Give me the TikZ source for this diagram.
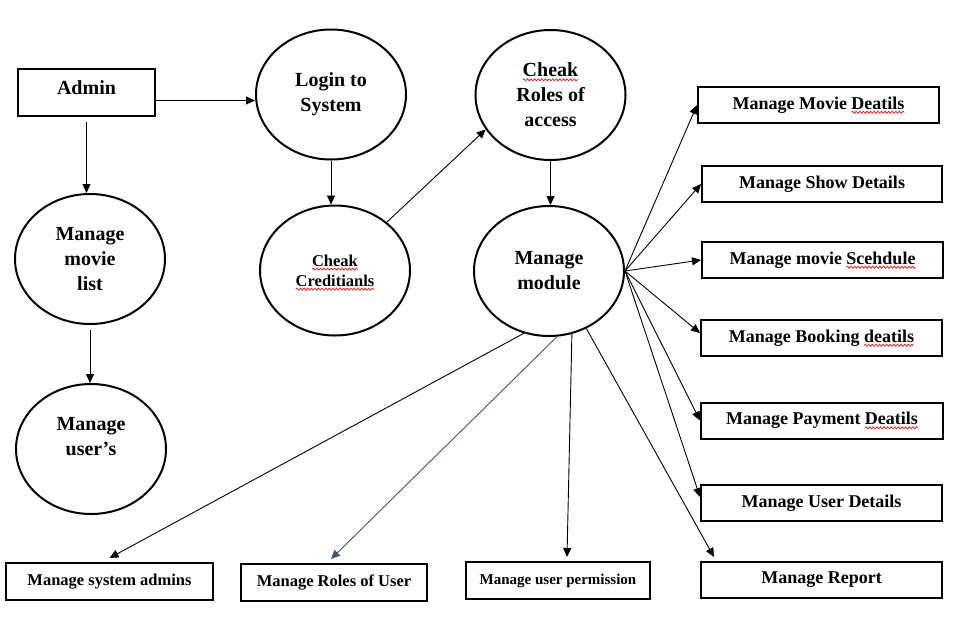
\documentclass[tikz,border=0pt]{standalone}
\usepackage{fontspec}
\setmainfont{Liberation Serif}
\definecolor{slate1}{RGB}{68, 84, 106}
\definecolor{red1}{RGB}{215, 40, 40}
\usepackage{tikz}
\usetikzlibrary{shapes, shapes.geometric, arrows.meta, positioning, calc, decorations.pathmorphing}

% word marked by the spell checker
\newcommand{\typo}[1]{\tikz[baseline=(w.base)]{\node[rectangle, draw=none, fill=none, minimum width=0pt, minimum height=0pt, inner sep=0pt, outer sep=0pt] (w) {#1};
  \draw[overlay, red1, line width=0.8pt, decorate, decoration={snake, amplitude=1pt, segment length=3.6pt}] ([yshift=-3pt]w.base west) -- ([yshift=-3pt]w.base east);}}

\begin{document}
\begin{tikzpicture}[x=1pt, y=-1pt,
    bubble/.style={ellipse, draw, line width=2pt, minimum width=150pt, minimum height=130pt, inner sep=0pt, align=center, font=\fontsize{20}{25}\selectfont\bfseries},
    entity/.style={rectangle, draw, line width=2pt, minimum height=36pt, inner sep=2pt, font=\fontsize{18}{22}\selectfont\bfseries},
    flow/.style={-{Triangle[length=9pt, width=8pt]}, line width=0.9pt}]
  \fill[white] (0,0) rectangle (956,625);
  \useasboundingbox (0,0) rectangle (956,625);

  \node[entity, minimum width=137pt, minimum height=47pt, text depth=9pt, font=\fontsize{20}{24}\selectfont\bfseries] (admin) at (86.5,92.5) {Admin};
  \node[bubble] (login) at (331,94.5) {Login to\\System};
  \node[bubble] (access) at (550.5,95) {\typo{Cheak}\\Roles of\\access};
  \node[bubble] (mlist) at (90,259) {Manage\\movie\\list};
  \node[bubble] (users) at (91,449) {Manage\\user’s\\ \mbox{}};
  \node[bubble, font=\fontsize{16.5}{20}\selectfont\bfseries] (cred) at (335,270.5) {\typo{Cheak}\\\typo{Creditianls}};
  \node[bubble] (module) at (549,271) {Manage\\module};

  \node[entity, minimum width=241pt] (mdet) at (818.5,105) {Manage Movie \typo{Deatils}};
  \node[entity, minimum width=240pt] (showdet) at (822,184) {Manage Show Details};
  \node[entity, minimum width=241pt] (sched) at (822.5,260) {Manage movie \typo{Scehdule}};
  \node[entity, minimum width=241pt] (book) at (821.5,338) {Manage Booking \typo{deatils}};
  \node[entity, minimum width=242pt] (pay) at (822,420.5) {Manage Payment \typo{Deatils}};
  \node[entity, minimum width=241pt] (udet) at (821.5,503) {Manage User Details};
  \node[entity, minimum width=241pt] (report) at (821.5,580) {Manage Report};

  \node[entity, minimum width=207pt, minimum height=37pt, font=\fontsize{16.5}{20}\selectfont\bfseries] (sysadm) at (109.5,581.5) {Manage system admins};
  \node[entity, minimum width=186pt, minimum height=37pt, font=\fontsize{16.5}{20}\selectfont\bfseries] (roleusr) at (334,582.5) {Manage Roles of User};
  \node[entity, minimum width=184pt, minimum height=37pt, font=\fontsize{15}{18}\selectfont\bfseries] (perm) at (558,580.5) {Manage user permission};

  \draw[flow] ([yshift=-8pt]admin.east) -- ([yshift=-8pt]admin.east -| login.west);
  \draw[flow] ([yshift=-5pt]admin.south) -- (admin.south |- mlist.north);
  \draw[flow] ([yshift=-5pt]mlist.south) -- (mlist.south |- users.north);
  \draw[flow] (login.south) -- (login.south |- cred.north);
  \draw[flow] (cred.43) -- (access.208);
  \draw[flow] (access.south) -- (access.south |- module.north);

  \foreach \t in {mdet, showdet, sched, pay}
    \draw[flow] (module.east) -- (\t.west);
  \draw[flow] (module.east) -- ([yshift=5pt]book.west);
  \draw[flow] (module.east) -- ([yshift=6pt]udet.west);
  \draw[flow] (module.-57) -- ([xshift=14pt, yshift=4pt]report.north west);

  \draw[flow] (module.248) -- ([yshift=4pt]sysadm.north);
  \draw[flow, slate1] (module.277) -- ([xshift=-3pt, yshift=4pt]roleusr.north);
  \draw[flow] (module.290) -- ([xshift=9pt, yshift=4pt]perm.north);
\end{tikzpicture}
\end{document}
